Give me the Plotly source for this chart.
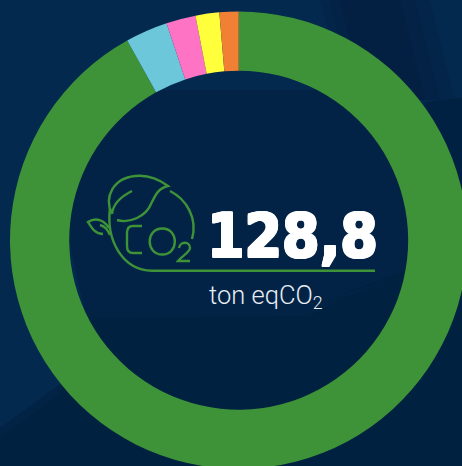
import plotly.graph_objects as go

categories = ["Categoria 1", "Categoria 2", "Categoria 3", "Categoria 4", "Categoria 5"]
values = [118.36, 3.86, 2.68, 2.16, 1.74]
colors = ["#3e9338", "#6cc7da", "#ff73c5", "#ffff3b", "#f08033"]
total_label = "128,8"
unit_label = "ton eqCO<sub>2</sub>"

W, H = 468, 470
CX, CY, R = 238.7, 240.2, 228.7
GREEN = "#3e9338"


def px(x):
    return x / W


def py(y):
    return 1 - y / H


def path(cmds):
    out = []
    for c in cmds:
        out.append(c[0] + " ".join(f"{px(c[i]):.5f},{py(c[i+1]):.5f}" for i in range(1, len(c), 2)))
    return " ".join(out)


def poly(points, fill):
    d = path([("M", *points[0])] + [("L", *p) for p in points[1:]]) + " Z"
    return dict(type="path", xref="paper", yref="paper", path=d, fillcolor=fill,
                line=dict(width=0), layer="below")


def stroke(cmds, width=2.4):
    return dict(type="path", xref="paper", yref="paper", path=path(cmds),
                line=dict(color=GREEN, width=width), fillcolor="rgba(0,0,0,0)", layer="above")


SOFT = "rgba(2,31,61,0.3)"
shapes = [
    poly([(320, 0), (430, 0), (455, 100), (345, 100)], SOFT),
    poly([(330, 0), (415, 0), (440, 100), (355, 100)], SOFT),
    poly([(340, 0), (400, 0), (425, 100), (365, 100)], SOFT),
    poly([(100, 90), (380, 90), (420, 270), (340, 295), (310, 312), (85, 312), (60, 200)], "#022345"),
    poly([(0, 438), (60, 394), (85, 318), (310, 316), (340, 299), (400, 276), (470, 250),
          (470, 470), (0, 470)], "rgba(2,31,61,0.5)"),
    poly([(0, 428), (60, 384), (85, 312), (310, 312), (340, 295), (400, 272), (470, 245),
          (470, 470), (0, 470)], "rgba(2,31,61,0.6)"),
    poly([(425, 102), (470, 97), (470, 255), (405, 272)], "rgba(2,31,61,0.75)"),
    # icon: leaf, vein, circle arcs, small leaf, C, O, 2, baseline
    stroke([("M", 112, 214), ("C", 104, 198, 112, 176, 140, 175.7), ("C", 150, 175.7, 160, 180, 168, 186),
            ("C", 158, 188, 155, 196, 151, 204), ("C", 146, 216, 130, 224, 117, 220)]),
    stroke([("M", 112, 214), ("C", 113, 204, 122, 196, 132, 191)]),
    stroke([("M", 110, 208), ("C", 106, 240, 122, 270, 152, 270.7), ("L", 375, 270.7)]),
    stroke([("M", 170, 191), ("C", 186, 199, 198, 218, 192, 239)]),
    stroke([("M", 109, 228), ("C", 104, 220, 96, 217, 88, 222), ("C", 92, 228, 95, 234, 103, 234)]),
    stroke([("M", 100, 225), ("C", 104, 226, 108, 230, 110, 235)]),
    stroke([("M", 142, 226), ("L", 133, 226), ("C", 129, 226, 127, 229, 127, 233), ("L", 127, 246),
            ("C", 127, 250, 129, 253, 133, 253), ("L", 142, 253)]),
    stroke([("M", 162.3, 228.5), ("C", 179, 228.5, 179, 254.5, 162.3, 254.5),
            ("C", 145.5, 254.5, 145.5, 228.5, 162.3, 228.5)]),
    stroke([("M", 179, 248), ("C", 180, 241, 190, 241, 190, 248), ("C", 190, 252, 181, 257, 178, 261),
            ("L", 190, 261)]),
]

fig = go.Figure(go.Pie(
    labels=categories,
    values=values,
    marker=dict(colors=colors, line=dict(width=0)),
    hole=0.741,
    sort=False,
    direction="clockwise",
    rotation=0,
    textinfo="none",
    showlegend=False,
    domain=dict(x=[px(CX - R), px(CX + R)], y=[py(CY + R), py(CY - R)]),
))

fig.update_layout(
    width=W, height=H, autosize=False,
    margin=dict(l=0, r=0, t=0, b=0, pad=0),
    paper_bgcolor="#03294f",
    shapes=shapes,
    annotations=[
        dict(text=total_label, xref="paper", yref="paper", x=px(292), y=py(235.5),
             xanchor="center", yanchor="middle", showarrow=False,
             font=dict(family="DejaVu Sans Condensed, DejaVu Sans", size=60, color="#ffffff", weight=700,
                       shadow="1px 0 0 #fff, -1px 0 0 #fff, 0 1px 0 #fff, 0 -1px 0 #fff, "
                              "1px 1px 0 #fff, -1px -1px 0 #fff, 1px -1px 0 #fff, -1px 1px 0 #fff")),
        dict(text=unit_label, xref="paper", yref="paper", x=px(265.5), y=py(296),
             xanchor="center", yanchor="middle", showarrow=False,
             font=dict(family="Roboto", size=25.5, color="#e8eef4", weight=300)),
    ],
)

fig.write_html("out.html", config=dict(displayModeBar=False),
               post_script="document.documentElement.style.overflow='hidden';"
                           "document.body.style.overflow='hidden';document.body.style.margin='0';")
